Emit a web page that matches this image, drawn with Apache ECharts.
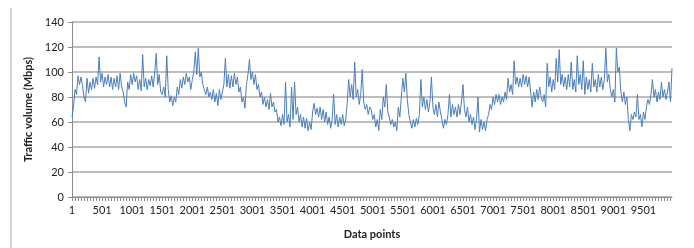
<!DOCTYPE html>
<html>
<head>
<meta charset="utf-8">
<title>Traffic volume</title>
<script src="https://cdn.jsdelivr.net/npm/echarts@6/dist/echarts.min.js"></script>
<style>
  html, body { margin: 0; padding: 0; background: #fff; }
  #chart { width: 694px; height: 248px; }
</style>
</head>
<body>
<div id="chart"></div>
<script>
  // one value every 25 data points
  var sampleStep = 25;
  var labelEvery = 20;   // 20 samples = 500 data points

  var traffic = [
    // 1 - 2476
    64, 72, 86, 82, 97, 90, 96, 89, 80, 76, 95, 83, 92, 86, 95, 87, 96, 90, 112, 92,
    99, 88, 96, 90, 98, 88, 96, 86, 95, 88, 97, 86, 99, 88, 84, 76, 72, 92, 86, 98,
    90, 99, 92, 97, 86, 94, 85, 114, 88, 95, 86, 94, 89, 97, 88, 100, 115, 90, 98, 84,
    82, 88, 80, 113, 86, 76, 81, 73, 80, 76, 88, 82, 94, 87, 96, 90, 99, 92, 96, 86,
    94, 100, 116, 98, 119, 96, 100, 90, 86, 82, 88, 80, 84, 78, 86, 76, 83, 73, 86, 78,
    // 2501 - 4976
    78, 90, 111, 88, 98, 87, 97, 88, 99, 90, 96, 84, 88, 76, 80, 71, 90, 98, 110, 94,
    100, 90, 98, 86, 90, 80, 84, 74, 80, 72, 78, 70, 83, 72, 76, 68, 70, 60, 64, 57,
    66, 58, 92, 60, 66, 56, 88, 62, 92, 66, 72, 60, 66, 56, 64, 55, 63, 53, 60, 54,
    68, 75, 66, 71, 64, 72, 62, 70, 60, 68, 58, 64, 55, 62, 82, 58, 66, 56, 64, 58,
    66, 57, 62, 75, 94, 80, 90, 78, 108, 80, 86, 74, 82, 102, 76, 70, 74, 66, 72, 70,
    // 5001 - 7476
    62, 66, 56, 62, 53, 70, 62, 80, 72, 90, 68, 64, 58, 62, 56, 60, 53, 72, 64, 80,
    95, 84, 99, 78, 66, 60, 55, 62, 56, 63, 58, 66, 94, 72, 80, 70, 78, 68, 76, 96,
    72, 66, 74, 64, 76, 68, 62, 55, 62, 58, 66, 82, 64, 74, 66, 72, 64, 74, 66, 76,
    90, 70, 64, 72, 60, 66, 58, 64, 54, 62, 80, 52, 62, 54, 60, 53, 62, 66, 74, 70,
    80, 74, 82, 76, 82, 74, 80, 76, 84, 78, 95, 84, 90, 82, 109, 90, 96, 88, 95, 88,
    // 7501 - 9976
    98, 90, 97, 88, 96, 84, 72, 84, 76, 86, 78, 88, 80, 76, 82, 72, 107, 88, 96, 84,
    94, 86, 111, 92, 118, 90, 98, 88, 96, 86, 98, 88, 108, 86, 94, 84, 113, 90, 98, 86,
    109, 82, 96, 86, 94, 84, 107, 88, 94, 84, 98, 88, 96, 86, 94, 119, 92, 98, 86, 80,
    86, 76, 119, 100, 104, 84, 76, 84, 74, 80, 62, 53, 66, 62, 68, 64, 82, 62, 66, 56,
    68, 62, 72, 78, 74, 82, 94, 80, 86, 76, 84, 78, 92, 80, 86, 78, 84, 92, 76, 103
  ];

  var yTicks = { min: 0, max: 140, step: 20 };

  var dataPoints = [];
  for (var i = 0; i < traffic.length; i++) {
    dataPoints.push(String(i * sampleStep + 1));
  }

  var chart = echarts.init(document.getElementById('chart'));
  var option = {
    animation: false,
    textStyle: { fontFamily: 'Lato, "Liberation Sans", sans-serif' },
    graphic: [{
      type: 'line',
      shape: { x1: 11, y1: 8, x2: 11, y2: 248 },
      style: { stroke: '#d4d4d4', lineWidth: 2 }
    }],
    grid: { left: 72, right: 22, top: 22, bottom: 51 },
    xAxis: {
      type: 'category',
      data: dataPoints,
      boundaryGap: false,
      name: 'Data points',
      nameLocation: 'middle',
      nameGap: 32,
      nameTextStyle: { fontSize: 11, fontWeight: 'bold', color: '#222' },
      axisLine: { lineStyle: { color: '#8c8c8c', width: 1 } },
      axisTick: { show: true, interval: 1, length: 4, lineStyle: { color: '#8c8c8c' } },
      axisLabel: {
        interval: function (idx) { return idx % labelEvery === 0; },
        fontSize: 11, color: '#222', margin: 8
      },
      splitLine: { show: false }
    },
    yAxis: {
      type: 'value',
      min: yTicks.min,
      max: yTicks.max,
      interval: yTicks.step,
      name: 'Traffic volume (Mbps)',
      nameLocation: 'middle',
      nameGap: 37,
      nameTextStyle: { fontSize: 11, fontWeight: 'bold', color: '#222' },
      axisLine: { show: true, lineStyle: { color: '#8c8c8c' } },
      axisTick: { show: true, length: 4, lineStyle: { color: '#8c8c8c' } },
      axisLabel: { fontSize: 11, color: '#222', margin: 8 },
      splitLine: { lineStyle: { color: '#a8a8a8', width: 1.5 } }
    },
    series: [{
      type: 'line',
      data: traffic,
      symbol: 'none',
      lineStyle: { color: '#4a7ebb', width: 1 }
    }]
  };
  chart.setOption(option);
</script>
</body>
</html>
